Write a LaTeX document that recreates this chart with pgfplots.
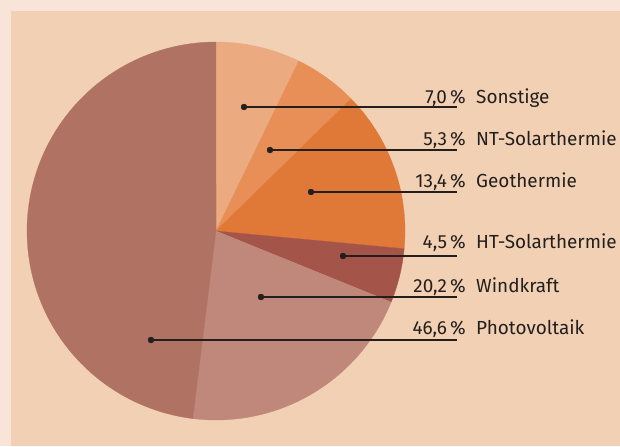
\documentclass[border=0pt]{standalone}
\usepackage{pgfplots}
\pgfplotsset{compat=1.18}
\usepackage{pgfplotstable}
\usepackage{fontspec}
\setmainfont{Fira Sans}
\definecolor{frame}{HTML}{F8E4D8}
\definecolor{panel}{HTML}{F2D0B4}
\definecolor{cA}{HTML}{EBAA7F}
\definecolor{cB}{HTML}{E88F57}
\definecolor{cC}{HTML}{E07838}
\definecolor{cD}{HTML}{A45448}
\definecolor{cE}{HTML}{C0887A}
\definecolor{cF}{HTML}{B07262}
\definecolor{txt}{HTML}{231F1D}
\pgfplotstableread{
val
7.0
5.3
13.4
4.5
20.2
46.6
}\shares
\pgfplotstablegetelem{0}{val}\of\shares\let\vA\pgfplotsretval
\pgfplotstablegetelem{1}{val}\of\shares\let\vB\pgfplotsretval
\pgfplotstablegetelem{2}{val}\of\shares\let\vC\pgfplotsretval
\pgfplotstablegetelem{3}{val}\of\shares\let\vD\pgfplotsretval
\pgfplotstablegetelem{4}{val}\of\shares\let\vE\pgfplotsretval
\pgfplotstablegetelem{5}{val}\of\shares\let\vF\pgfplotsretval
\pgfmathsetmacro\total{\vA+\vB+\vC+\vD+\vE+\vF}
\pgfmathsetmacro\aA{0}
\pgfmathsetmacro\aB{\aA+360*\vA/\total}
\pgfmathsetmacro\aC{\aB+360*\vB/\total}
\pgfmathsetmacro\aD{\aC+360*\vC/\total}
\pgfmathsetmacro\aE{\aD+360*\vD/\total}
\pgfmathsetmacro\aF{\aE+360*\vE/\total}
\pgfmathsetmacro\aG{360}
\newcommand\slice[3]{%
  \addplot[fill=#1, draw=#1, line width=0.3pt, domain=#2:#3, samples=90, variable=\t]
    ({216+189*sin(\t)},{231-189*cos(\t)}) -- (axis cs:216,231) -- cycle;}
\newcommand\lab[6]{%
  \addplot[txt, line width=1.1pt] coordinates {(#1,#2) (457,#2)};
  \addplot[txt, only marks, mark=*, mark size=3pt] coordinates {(#1,#2)};
  \node[anchor=base east, text=txt, font=\fontsize{19}{22}\selectfont, inner sep=0pt] at (axis cs:466,#3) {#4\,\%};
  \node[anchor=base west, text=txt, font=\fontsize{19}{22}\selectfont, inner sep=0pt] at (axis cs:476,#3) {#5};}
\begin{document}
\begin{tikzpicture}
\begin{axis}[
  width=620bp, height=446bp, scale only axis,
  xmin=0, xmax=620, ymin=0, ymax=446, y dir=reverse,
  hide axis, clip=false,
]
\addplot[fill=frame, draw=none] coordinates {(0,0) (620,0) (620,446) (0,446)} -- cycle;
\addplot[fill=panel, draw=none] coordinates {(11,11) (620,11) (620,446) (11,446)} -- cycle;
\slice{cA}{\aA}{\aB}
\slice{cB}{\aB}{\aC}
\slice{cC}{\aC}{\aD}
\slice{cD}{\aD}{\aE}
\slice{cE}{\aE}{\aF}
\slice{cF}{\aF}{\aG}
\lab{244}{107}{103}{7,0}{Sonstige}{}
\lab{270}{150}{145}{5,3}{NT-Solarthermie}{}
\lab{311}{192}{187}{13,4}{Geothermie}{}
\lab{343}{256}{248}{4,5}{HT-Solarthermie}{}
\lab{261}{297}{292}{20,2}{Windkraft}{}
\lab{151}{340}{334}{46,6}{Photovoltaik}{}
\end{axis}
\end{tikzpicture}
\end{document}
